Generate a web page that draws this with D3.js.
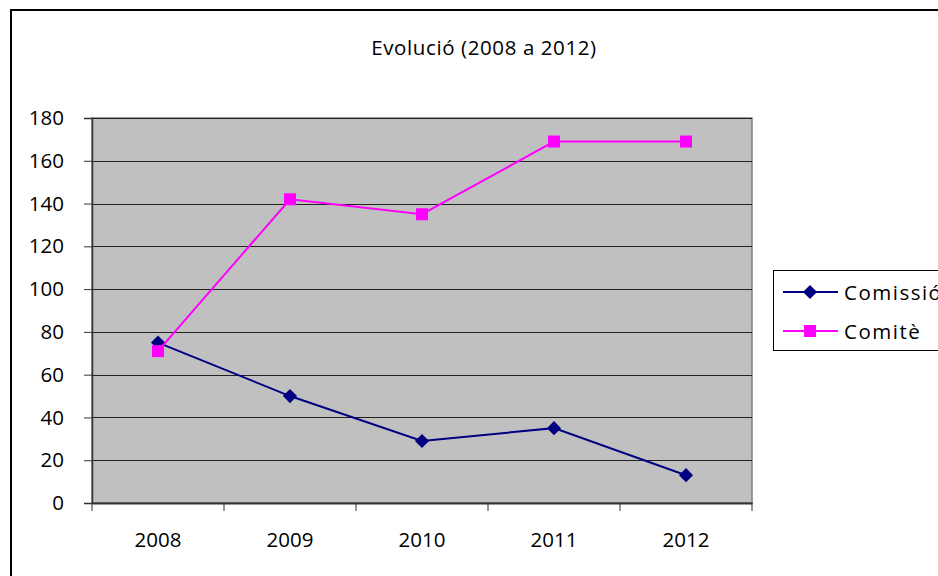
<!DOCTYPE html>
<html><head><meta charset="utf-8">
<script src="https://cdn.jsdelivr.net/npm/d3@7"></script>
<style>html,body{margin:0;padding:0;background:#fff;overflow:hidden}</style>
</head><body>
<script>
const years = ["2008","2009","2010","2011","2012"];
const comissio = [75, 50, 29, 35, 13];
const comite = [71, 142, 135, 169, 169];
const yTicks = [0,20,40,60,80,100,120,140,160,180];
const seriesNames = ["Comissió","Comitè"];
const titleText = "Evolució (2008 a 2012)";

const W = 938, H = 576;
const font = "'Open Sans', sans-serif";
const svg = d3.select("body").append("svg").attr("width", W).attr("height", H);

// outer chart border
svg.append("rect").attr("x", 11).attr("y", 10).attr("width", 1000).attr("height", 700)
  .attr("fill", "#fff").attr("stroke", "#000").attr("stroke-width", 2);

svg.append("text").attr("x", 484).attr("y", 55).attr("text-anchor", "middle")
  .attr("font-family", font).attr("font-size", 20.5).attr("letter-spacing", 0.6)
  .attr("fill", "#000").text(titleText);

const x = d3.scaleBand().domain(years).range([92, 752]).padding(0);
const y = d3.scaleLinear().domain([0, 180]).range([503, 118]);

// plot area
svg.append("rect").attr("x", 92).attr("y", y(180)).attr("width", 660).attr("height", y(0) - y(180))
  .attr("fill", "#c0c0c0").attr("stroke", "#808080").attr("stroke-width", 1.5);

// gridlines
svg.append("g").selectAll("line").data(yTicks.filter(d => d > 0)).join("line")
  .attr("x1", 92).attr("x2", 752).attr("y1", d => Math.round(y(d)) + 0.5).attr("y2", d => Math.round(y(d)) + 0.5)
  .attr("stroke", "#222").attr("stroke-width", 1);

// y axis
const yAxis = svg.append("g").attr("transform", "translate(92,0)")
  .call(d3.axisLeft(y).tickValues(yTicks).tickSize(8).tickPadding(20));
yAxis.select(".domain").attr("stroke", "#333").attr("stroke-width", 1.5);
yAxis.selectAll(".tick line").attr("stroke", "#333");
yAxis.selectAll("text").attr("font-family", font).attr("font-size", 20.5).attr("fill", "#000");

// x axis
const xAxis = svg.append("g").attr("transform", `translate(0,${y(0)})`)
  .call(d3.axisBottom(x).tickSize(0).tickPadding(29));
xAxis.select(".domain").attr("stroke", "#333").attr("stroke-width", 2);
xAxis.selectAll("text").attr("font-family", font).attr("font-size", 20.5).attr("fill", "#000");
// boundary ticks
const bounds = years.map(d => x(d)).concat([x(years[years.length-1]) + x.bandwidth()]);
svg.append("g").selectAll("line").data(bounds).join("line")
  .attr("x1", d => d).attr("x2", d => d).attr("y1", y(0)).attr("y2", y(0) + 8)
  .attr("stroke", "#333").attr("stroke-width", 1);

const cx = d => x(d) + x.bandwidth() / 2;
const line = d3.line().x((d, i) => cx(years[i])).y(d => y(d));

// Comissió
svg.append("path").datum(comissio).attr("d", line).attr("fill", "none")
  .attr("stroke", "#000080").attr("stroke-width", 2);
const diamond = d3.symbol().type(d3.symbolSquare).size(100);
svg.append("g").selectAll("path").data(comissio).join("path")
  .attr("d", diamond()).attr("fill", "#000080")
  .attr("transform", (d, i) => `translate(${cx(years[i])},${y(d)}) rotate(45)`);

// Comitè
svg.append("path").datum(comite).attr("d", line).attr("fill", "none")
  .attr("stroke", "#ff00ff").attr("stroke-width", 2);
svg.append("g").selectAll("rect").data(comite).join("rect")
  .attr("x", (d, i) => cx(years[i]) - 6).attr("y", d => y(d) - 6)
  .attr("width", 12).attr("height", 12).attr("fill", "#ff00ff");

// legend
const lg = svg.append("g");
lg.append("rect").attr("x", 773.5).attr("y", 270.5).attr("width", 300).attr("height", 80)
  .attr("fill", "#fff").attr("stroke", "#000").attr("stroke-width", 1);
const colors = ["#000080", "#ff00ff"];
seriesNames.forEach((name, i) => {
  const ly = 292 + i * 39;
  lg.append("line").attr("x1", 783).attr("x2", 838).attr("y1", ly).attr("y2", ly)
    .attr("stroke", colors[i]).attr("stroke-width", 2);
  if (i === 0) {
    lg.append("path").attr("d", diamond()).attr("fill", colors[i])
      .attr("transform", `translate(810,${ly}) rotate(45)`);
  } else {
    lg.append("rect").attr("x", 804).attr("y", ly - 6).attr("width", 12).attr("height", 12).attr("fill", colors[i]);
  }
  lg.append("text").attr("x", 844).attr("y", ly + 8).attr("font-family", font).attr("font-size", 20.5)
    .attr("letter-spacing", 1.5).attr("fill", "#000").text(name);
});
</script>
</body></html>
